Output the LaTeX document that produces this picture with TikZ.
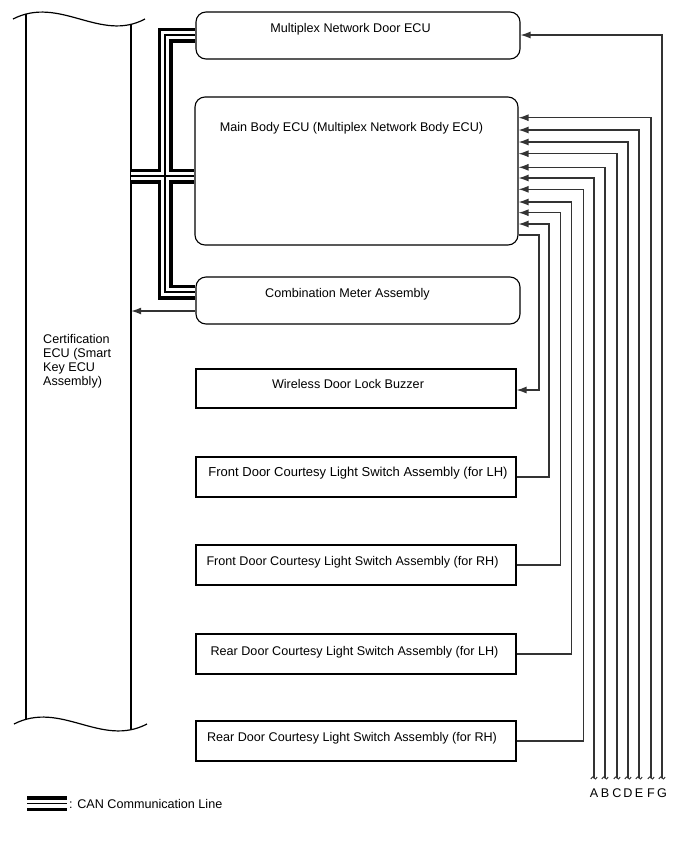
\documentclass[tikz,border=0pt]{standalone}
\usepackage{fontspec}
\setmainfont{Liberation Sans}
\usetikzlibrary{arrows.meta}
\begin{document}
\begin{tikzpicture}[x=1pt,y=-1pt,
  rbox/.style={draw=black, line width=1.1pt, rounded corners=10pt, inner sep=0pt},
  sbox/.style={draw=black, line width=1.1pt, inner sep=0pt, minimum width=320pt, minimum height=40pt},
  lbl/.style={inner sep=0pt, anchor=base, font=\fontsize{12.6}{14}\selectfont},
  wire/.style={draw=black!80, line width=1.2pt},
  arr/.style={wire, -{Latex[length=10pt,width=7pt]}},
  canA/.style={line width=15pt, black, line join=miter},
  canB/.style={line width=8pt, white, line join=miter},
  canC/.style={line width=1.5pt, black, line join=miter},
  brk/.style={line width=0.9pt, black!80}
]
\useasboundingbox (0,0) rectangle (688,852);
% Certification ECU outline
\node[inner sep=0pt, minimum width=105pt, minimum height=715pt] (cert) at (78.5,372) {};
\draw[line width=1.2pt] (13,19) .. controls (60,-5) and (100,43) .. (145,19);
\draw[line width=1.2pt] (14,724) .. controls (61,700) and (101,748) .. (147,724);
\draw[line width=1.2pt] (26,14) -- (26,719.5);
\draw[line width=1.2pt] (131,24.5) -- (131,729.5);
\node[inner sep=0pt, anchor=north west, align=left, font=\fontsize{12.6}{14}\selectfont] (certtxt) at (43,334)
 {Certification\\ECU (Smart\\Key ECU\\Assembly)};

% boxes
\node[rbox, minimum width=324pt, minimum height=47pt] (door) at (358,35.5) {};
\node[rbox, minimum width=323pt, minimum height=148pt] (mbecu) at (356.5,171) {};
\node[rbox, minimum width=324pt, minimum height=47pt] (meter) at (358,300.5) {};
\node[sbox, minimum height=39pt] (buzz) at (356,388.5) {};
\node[sbox] (flh) at (356,477) {};
\node[sbox] (frh) at (356,565) {};
\node[sbox] (rlh) at (356,654) {};
\node[sbox] (rrh) at (356,741) {};

% texts
\node[lbl] (t1) at (350.5,32.5) {Multiplex Network Door ECU};
\node[lbl] (t2) at (351.5,131.5) {Main Body ECU (Multiplex Network Body ECU)};
\node[lbl] (t3) at (347.5,297.5) {Combination Meter Assembly};
\node[lbl] (t4) at (348,388.5) {Wireless Door Lock Buzzer};
\node[lbl, font=\fontsize{13}{14}\selectfont] (t5) at (358,476.5) {Front Door Courtesy Light Switch Assembly (for LH)};
\node[lbl] (t6) at (352.5,565.5) {Front Door Courtesy Light Switch Assembly (for RH)};
\node[lbl] (t7) at (354.5,655.5) {Rear Door Courtesy Light Switch Assembly (for LH)};
\node[lbl] (t8) at (352,741.5) {Rear Door Courtesy Light Switch Assembly (for RH)};

% CAN bus
\foreach \s in {canA,canB,canC}{
  \draw[\s] (door.west |- 0,35) -- (165,35) -- (165,292) -- (meter.west |- 0,292);
  \draw[\s] (cert.east |- 0,176) -- (mbecu.west |- 0,176);
}

% meter -> cert
\draw[arr] (meter.west |- 0,311) -- (cert.east |- 0,311);

% bottom end coordinates and letters
\foreach \n/\x in {A/594,B/605,C/617,D/628,E/639,F/651,G/662}{
  \coordinate (e\n) at (\x,778);
  \node[lbl] (L\n) at (\x,797.5) {\n};
  \draw[brk] (\x-3.2,779) .. controls (\x-2,776.5) and (\x-1,776.5) .. (\x,778) .. controls (\x+1,779.5) and (\x+2,779.5) .. (\x+3.2,777);
}
\draw[arr] (eG) -- (eG |- 0,35) -- (door.east |- 0,35);
\draw[arr] (eF) -- (eF |- 0,117.7) -- (mbecu.east |- 0,117.7);
\draw[arr] (eE) -- (eE |- 0,130) -- (mbecu.east |- 0,130);
\draw[arr] (eD) -- (eD |- 0,142) -- (mbecu.east |- 0,142);
\draw[arr] (eC) -- (eC |- 0,153.7) -- (mbecu.east |- 0,153.7);
\draw[arr] (eB) -- (eB |- 0,167.3) -- (mbecu.east |- 0,167.3);
\draw[arr] (eA) -- (eA |- 0,178) -- (mbecu.east |- 0,178);

% switches -> main body
\draw[arr] (rrh.east) -- (583.3,741) -- (583.3,189.3) -- (mbecu.east |- 0,189.3);
\draw[arr] (rlh.east) -- (571.7,654) -- (571.7,202) -- (mbecu.east |- 0,202);
\draw[arr] (frh.east) -- (560.3,565) -- (560.3,212.7) -- (mbecu.east |- 0,212.7);
\draw[arr] (flh.east) -- (549,477) -- (549,224) -- (mbecu.east |- 0,224);

% main body -> buzzer
\draw[arr] (mbecu.east |- 0,235) -- (539,235) -- (539,390) -- (buzz.east |- 0,390);

% legend
\coordinate (lg1) at (27,803.5);
\coordinate (lg2) at (67,803.5);
\foreach \s in {canA,canB,canC}{ \draw[\s] (lg1) -- (lg2); }
\node[lbl, anchor=base west] (legtxt) at (69,808) {: CAN Communication Line};
\end{tikzpicture}
\end{document}
